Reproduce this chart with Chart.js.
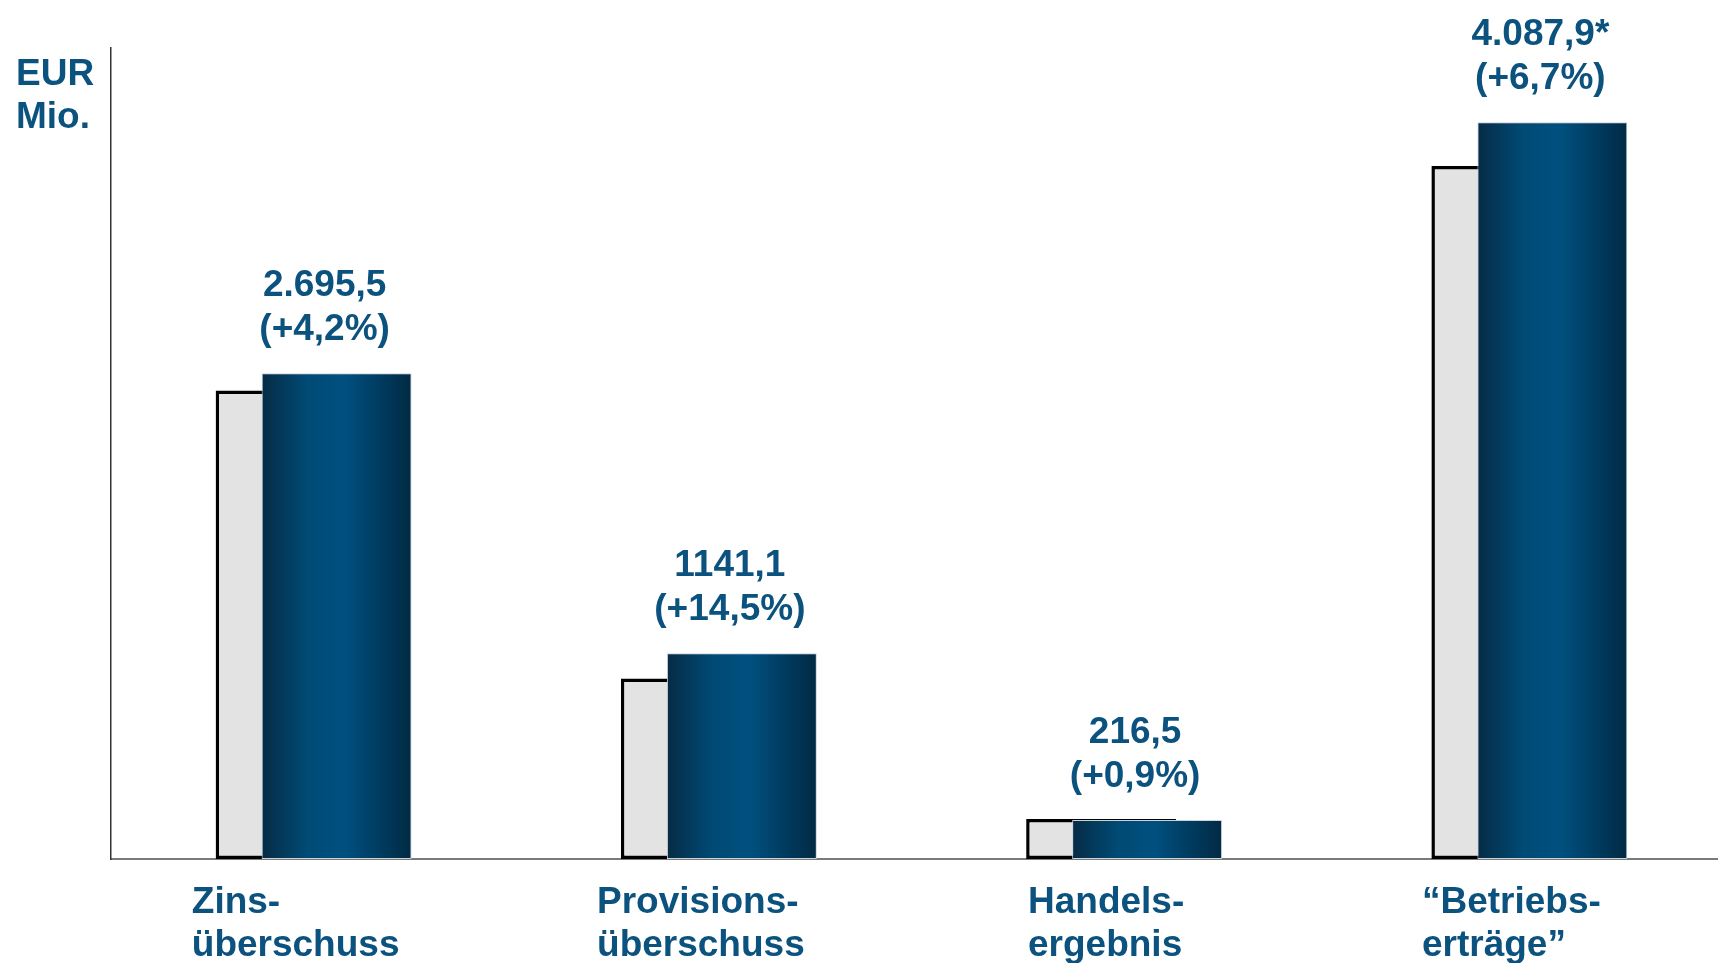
<!DOCTYPE html>
<html lang="de">
<head>
<meta charset="utf-8">
<title>Betriebserträge</title>
<script src="https://cdn.jsdelivr.net/npm/chart.js@4.4.1/dist/chart.umd.min.js"></script>
<style>
  html, body { margin: 0; padding: 0; background: #fff; overflow: hidden; }
  #wrap { position: relative; width: 1732px; height: 963px; }
</style>
</head>
<body>
<div id="wrap"><canvas id="myChart"></canvas></div>
<script>
const categories = [['Zins-', 'überschuss'], ['Provisions-', 'überschuss'], ['Handels-', 'ergebnis'], ['“Betriebs-', 'erträge”']];
const previousYear = [2600, 1002, 222, 3845];
const currentYear = [2695.5, 1141.1, 216.5, 4087.9];
const valueLabels = ['2.695,5', '1141,1', '216,5', '4.087,9*'];
const changeLabels = ['(+4,2%)', '(+14,5%)', '(+0,9%)', '(+6,7%)'];
const unitLabel = ['EUR', 'Mio.'];
const yMax = 4500;

const textBlue = '#0b527f';
const font = "bold 37px 'Liberation Sans', Arial, sans-serif";
const CAT_PCT = 0.227;
const BAR_PCT = 3.26;

// blue bars: dark edges, lighter middle
function blueGradient(c) {
    const chart = c.chart;
    const area = chart.chartArea;
    if (!area || c.dataIndex === undefined) return '#004b76';
    const chunk = (area.width / categories.length) * CAT_PCT / 2;
    const cx = chart.scales.x.getPixelForValue(c.dataIndex) + chunk / 2;
    const w = chunk * BAR_PCT;
    const g = chart.ctx.createLinearGradient(cx - w / 2, 0, cx + w / 2, 0);
    g.addColorStop(0, '#062b45');
    g.addColorStop(0.3, '#004a74');
    g.addColorStop(0.55, '#00507f');
    g.addColorStop(0.8, '#003a5e');
    g.addColorStop(1, '#022a44');
    return g;
}

// draw the current year on top of the previous year
const layerOrder = {
    id: 'layerOrder',
    beforeDatasetDraw(chart, args) {
        if (args.index === 1) return false;
    },
    afterDatasetDraw(chart, args) {
        if (args.index === 0) chart.getDatasetMeta(1).controller.draw();
    }
};

const texts = {
    id: 'texts',
    afterDraw(chart) {
        const ctx = chart.ctx;
        const area = chart.chartArea;
        const x = chart.scales.x;
        ctx.save();
        ctx.font = font;
        ctx.fillStyle = textBlue;
        ctx.textBaseline = 'alphabetic';

        // value labels above the blue bars
        ctx.textAlign = 'center';
        chart.getDatasetMeta(1).data.forEach((el, i) => {
            ctx.fillText(valueLabels[i], el.x - 12, el.y - 33 - 44);
            ctx.fillText(changeLabels[i], el.x - 12, el.y - 33);
        });

        // category labels, left aligned block
        ctx.textAlign = 'left';
        chart.data.labels.forEach((lines, i) => {
            const w = Math.max(...lines.map(l => ctx.measureText(l).width));
            const left = x.getPixelForValue(i) - 18 - w / 2;
            lines.forEach((l, j) => ctx.fillText(l, left, area.bottom + 54 + j * 43));
        });

        // unit
        unitLabel.forEach((l, j) => ctx.fillText(l, 16, area.top + 37 + j * 43));
        ctx.restore();
    }
};

window.onload = () => {
    const ctx = document.getElementById('myChart');

    new Chart(ctx, {
        type: 'bar',
        data: {
            labels: categories,
            datasets: [{
                label: 'Vorjahr',
                data: previousYear,
                backgroundColor: '#e3e3e3',
                borderColor: '#000',
                borderWidth: { left: 3.5, top: 3.5, bottom: 3.5, right: 0 },
                borderSkipped: false,
                categoryPercentage: CAT_PCT,
                barPercentage: BAR_PCT
            }, {
                label: 'Aktuell',
                data: currentYear,
                backgroundColor: blueGradient,
                borderColor: '#c9d3dc',
                borderWidth: 1,
                borderSkipped: false,
                categoryPercentage: CAT_PCT,
                barPercentage: BAR_PCT
            }]
        },
        options: {
            responsive: true,
            maintainAspectRatio: false,
            animation: false,
            layout: {
                padding: { left: 103, top: 48, bottom: 96, right: 0 }
            },
            plugins: {
                legend: { display: false },
                tooltip: { enabled: false }
            },
            scales: {
                x: {
                    grid: { display: false },
                    ticks: { display: false },
                    border: { display: true, color: '#7a7a7a', width: 2 }
                },
                y: {
                    min: 0,
                    max: yMax,
                    grid: { display: false },
                    ticks: { display: false },
                    border: { display: true, color: '#333', width: 1.5 }
                }
            }
        },
        plugins: [layerOrder, texts]
    });
};
</script>
</body>
</html>
